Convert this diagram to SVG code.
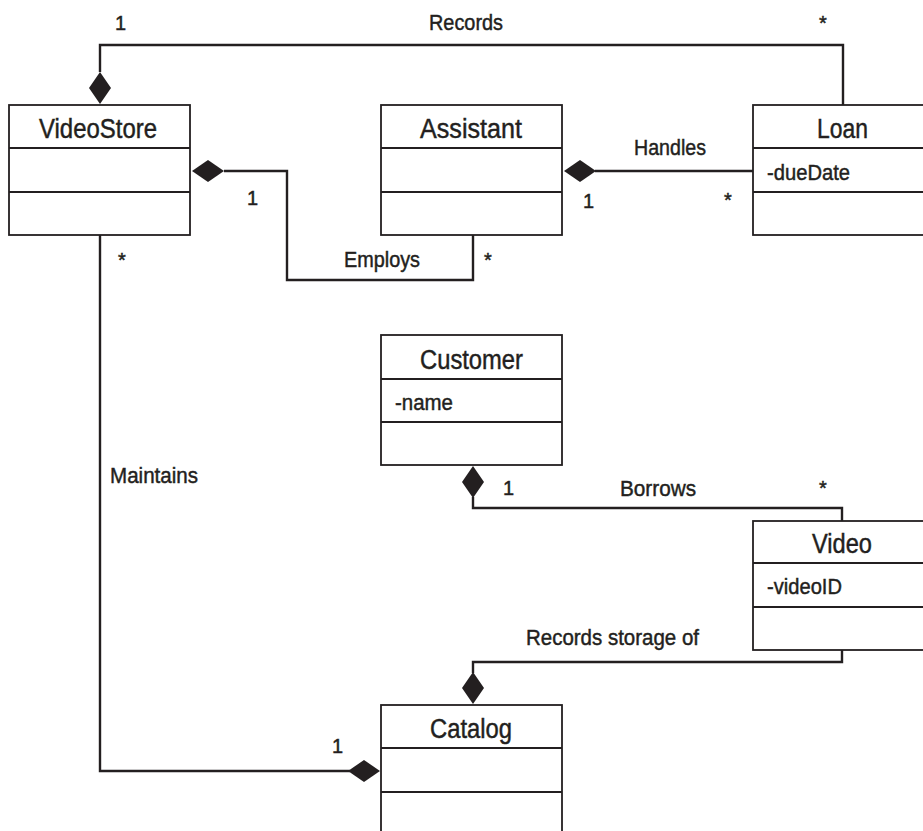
<svg xmlns="http://www.w3.org/2000/svg" width="923" height="831" viewBox="0 0 923 831">
  <style>
    .box { fill: #ffffff; stroke: #231f20; stroke-width: 1.8; }
    .div { stroke: #231f20; stroke-width: 1.8; }
    .wire { fill: none; stroke: #231f20; stroke-width: 2.4; stroke-linejoin: miter; }
    .dia { fill: #231f20; stroke: none; }
    text { font-family: "Liberation Sans Narrow", "Liberation Sans", Arial, sans-serif; fill: #231f20; stroke: #231f20; stroke-width: 0.45; }
    .title { font-size: 27px; }
    .attr { font-size: 22px; }
    .label { font-size: 22px; }
    .mult { font-size: 20px; }
  </style>

  <rect width="923" height="831" fill="#ffffff"/>

  <!-- associations -->
  <g id="connectors">
    <!-- Records: VideoStore to Loan -->
    <polyline class="wire" points="100,72 100,45 843,45 843,105"/>
    <polygon class="dia" points="100,72 111,88 100,104 89,88"/>
    <!-- Employs: VideoStore to Assistant -->
    <polyline class="wire" points="224,171 287,171 287,280 473,280 473,235"/>
    <polygon class="dia" points="192,171 208,160 224,171 208,182"/>
    <!-- Handles: Assistant to Loan -->
    <polyline class="wire" points="595,171 753,171"/>
    <polygon class="dia" points="564,171 580,160 596,171 580,182"/>
    <!-- Maintains: VideoStore to Catalog -->
    <polyline class="wire" points="100,235 100,771 350,771"/>
    <polygon class="dia" points="348,771 364,760 380,771 364,782"/>
    <!-- Borrows: Customer to Video -->
    <polyline class="wire" points="473,497 473,508 842,508 842,521"/>
    <polygon class="dia" points="473,466 484,482 473,498 462,482"/>
    <!-- Records storage of: Catalog to Video -->
    <polyline class="wire" points="842,650 842,662 473,662 473,673"/>
    <polygon class="dia" points="473,672 484,688 473,704 462,688"/>

    <text class="label" x="429" y="30" textLength="74" lengthAdjust="spacingAndGlyphs">Records</text>
    <text class="mult" x="115" y="30">1</text>
    <text class="mult" x="819" y="30">*</text>

    <text class="label" x="344" y="267" textLength="76" lengthAdjust="spacingAndGlyphs">Employs</text>
    <text class="mult" x="247" y="205">1</text>
    <text class="mult" x="484" y="267">*</text>

    <text class="label" x="634" y="155" textLength="72" lengthAdjust="spacingAndGlyphs">Handles</text>
    <text class="mult" x="583" y="208">1</text>
    <text class="mult" x="724" y="207">*</text>

    <text class="label" x="110" y="483" textLength="88" lengthAdjust="spacingAndGlyphs">Maintains</text>
    <text class="mult" x="118" y="267">*</text>
    <text class="mult" x="332" y="753">1</text>

    <text class="label" x="620" y="496" textLength="76" lengthAdjust="spacingAndGlyphs">Borrows</text>
    <text class="mult" x="503" y="495">1</text>
    <text class="mult" x="819" y="495">*</text>

    <text class="label" x="526" y="645" textLength="173" lengthAdjust="spacingAndGlyphs">Records storage of</text>
  </g>

  <!-- classes -->
  <g id="VideoStore">
    <rect class="box" x="9" y="105" width="181" height="130"/>
    <line class="div" x1="9" y1="148" x2="190" y2="148"/>
    <line class="div" x1="9" y1="192" x2="190" y2="192"/>
    <text class="title" x="39" y="138" textLength="118" lengthAdjust="spacingAndGlyphs">VideoStore</text>
  </g>

  <g id="Assistant">
    <rect class="box" x="381" y="105" width="181" height="130"/>
    <line class="div" x1="381" y1="148" x2="562" y2="148"/>
    <line class="div" x1="381" y1="192" x2="562" y2="192"/>
    <text class="title" x="420" y="138" textLength="102" lengthAdjust="spacingAndGlyphs">Assistant</text>
  </g>

  <g id="Loan">
    <rect class="box" x="753" y="105" width="190" height="130"/>
    <line class="div" x1="753" y1="148" x2="943" y2="148"/>
    <line class="div" x1="753" y1="192" x2="943" y2="192"/>
    <text class="title" x="817" y="138" textLength="51" lengthAdjust="spacingAndGlyphs">Loan</text>
    <text class="attr" x="767" y="180" textLength="83" lengthAdjust="spacingAndGlyphs">-dueDate</text>
  </g>

  <g id="Customer">
    <rect class="box" x="381" y="335" width="181" height="130"/>
    <line class="div" x1="381" y1="379" x2="562" y2="379"/>
    <line class="div" x1="381" y1="422" x2="562" y2="422"/>
    <text class="title" x="420" y="369" textLength="103" lengthAdjust="spacingAndGlyphs">Customer</text>
    <text class="attr" x="395" y="410" textLength="58" lengthAdjust="spacingAndGlyphs">-name</text>
  </g>

  <g id="Video">
    <rect class="box" x="753" y="521" width="190" height="129"/>
    <line class="div" x1="753" y1="563" x2="943" y2="563"/>
    <line class="div" x1="753" y1="607" x2="943" y2="607"/>
    <text class="title" x="812" y="553" textLength="60" lengthAdjust="spacingAndGlyphs">Video</text>
    <text class="attr" x="767" y="594" textLength="75" lengthAdjust="spacingAndGlyphs">-videoID</text>
  </g>

  <g id="Catalog">
    <rect class="box" x="381" y="705" width="181" height="140"/>
    <line class="div" x1="381" y1="748" x2="562" y2="748"/>
    <line class="div" x1="381" y1="792" x2="562" y2="792"/>
    <text class="title" x="430" y="738" textLength="82" lengthAdjust="spacingAndGlyphs">Catalog</text>
  </g>
</svg>
